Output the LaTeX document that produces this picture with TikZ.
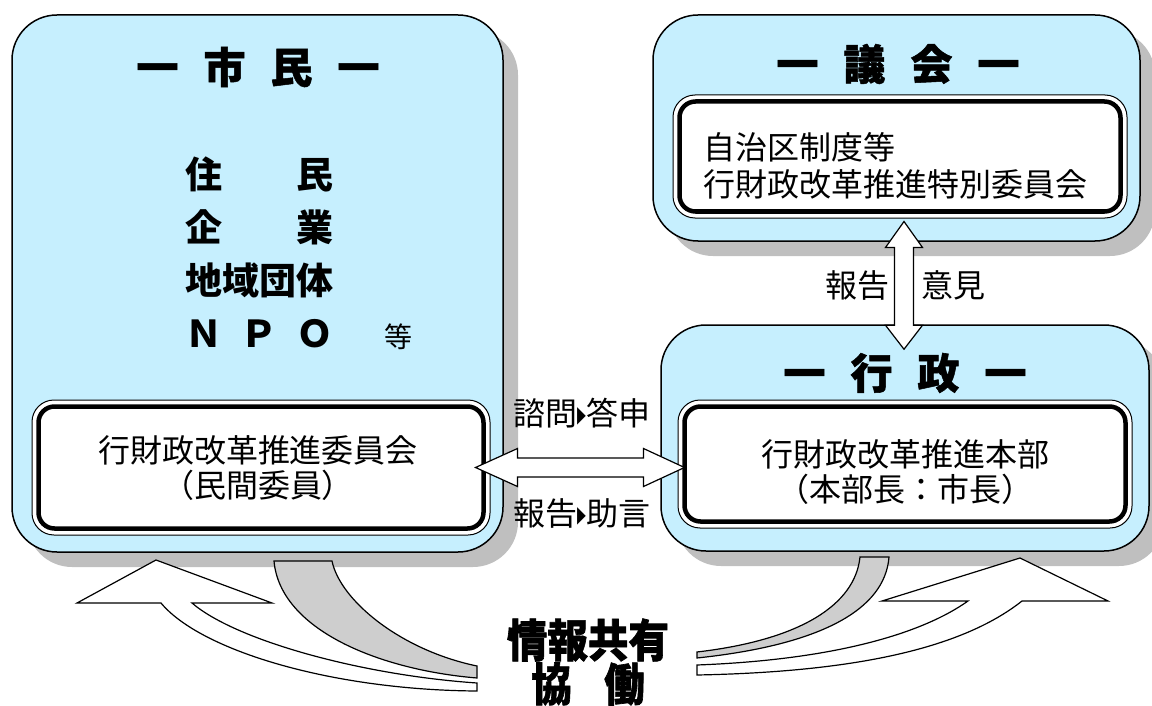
\documentclass[tikz,border=0pt]{standalone}
\usepackage{fontspec}
\setmainfont{Noto Sans CJK JP}
\newfontfamily\symfont{DejaVu Sans}
\usetikzlibrary{calc}
\usetikzlibrary{shadows}

\definecolor{boxcyan}{RGB}{198,239,254}
\definecolor{shadowgray}{RGB}{191,191,191}
\definecolor{bandgray}{RGB}{206,206,206}

\newcommand{\tri}{{\symfont\scalebox{0.55}[1.1]{▸}}}
\newcommand{\tgap}{\hspace{25pt}}

\tikzset{
  bigbox/.style={draw, line width=1.5pt, fill=boxcyan, rounded corners=45pt, inner sep=0pt,
    drop shadow={shadow xshift=15pt, shadow yshift=-15pt, fill=shadowgray, opacity=1}},
  innerbox/.style={draw, line width=1pt, fill=white, rounded corners=22pt, inner sep=0pt},
  thickframe/.style={line width=4.5pt, rounded corners=16pt},
  titletext/.style={font=\fontsize{42}{50}\selectfont\bfseries\addfontfeature{FakeBold=1.2}},
  listtext/.style={font=\fontsize{37}{44}\selectfont\bfseries, anchor=west, inner sep=0pt},
  boxtext/.style={font=\fontsize{32}{35}\selectfont, align=center},
  labeltext/.style={font=\fontsize{32}{38}\selectfont},
  blockarrow/.style={draw, line width=1.2pt, fill=white, line join=miter},
  band/.style={draw, line width=1.2pt, fill=bandgray},
  bigtext/.style={font=\fontsize{45}{50}\selectfont\bfseries\addfontfeature{FakeBold=1.5}, xscale=0.9, inner sep=0pt}
}

\begin{document}
\begin{tikzpicture}[x=1pt, y=-1pt]
  \useasboundingbox (0,0) rectangle (1152,706);

  % outer boxes
  \node[bigbox, minimum width=491pt, minimum height=537pt] (shimin) at (257.5,283.5) {};
  \node[bigbox, minimum width=487pt, minimum height=226pt] (gikai) at (896.5,128) {};
  \node[bigbox, minimum width=488pt, minimum height=226pt] (gyosei) at (905,438) {};

  % inner boxes
  \node[innerbox, minimum width=458pt, minimum height=135pt] (iinkai) at (261,467.5) {};
  \node[innerbox, minimum width=454pt, minimum height=123pt] (tokubetsu) at (900,156.5) {};
  \node[innerbox, minimum width=454pt, minimum height=128pt] (honbu) at (905,464) {};
  \foreach \b in {iinkai,tokubetsu,honbu}
    \draw[thickframe] ($(\b.north west)+(7,7)$) rectangle ($(\b.south east)+(-7,-7)$);

  % titles
  \node[titletext] (shiminT) at (258,67) {一\tgap 市\tgap 民\tgap 一};
  \node[titletext] (gikaiT) at (898,64) {一\tgap 議\tgap 会\tgap 一};
  \node[titletext] (gyoseiT) at (905,373) {一\tgap 行\tgap 政\tgap 一};

  \node[listtext] (jumin) at (185,174) {住　　民};
  \node[listtext] (kigyo) at (185,227) {企　　業};
  \node[listtext] (dantai) at (185,280) {地域団体};
  \node[listtext] (npo) at (185,334) {Ｎ\hspace{0.5em}Ｐ\hspace{0.5em}Ｏ};
  \node[font=\fontsize{28}{32}\selectfont] (nado) at (398,337) {等};

  \node[boxtext] (iinkaiT) at (258,468) {行財政改革推進委員会\\（民間委員）};
  \node[boxtext, align=left, anchor=west, font=\fontsize{32}{37}\selectfont] (tokubetsuT) at (700,166) {自治区制度等\\行財政改革推進特別委員会};
  \node[boxtext] (honbuT) at (905,472) {行財政改革推進本部\\（本部長：市長）};

  % arrows
  \coordinate (vt) at ($(tokubetsu.south)+(4,3)$);
  \coordinate (vb) at ($(vt |- gyosei.north)+(0,25)$);
  \draw[blockarrow] (vt) -- ++(18.5,26) -- ++(-9,0) -- ($(vb)+(9.5,-24)$) -- ++(9,0) -- (vb)
    -- ++(-18.5,-24) -- ++(9,0) -- ($(vt)+(-9.5,26)$) -- ++(-9,0) -- cycle;
  \node[labeltext] (hokoku) at (857,285) {報告};
  \node[labeltext] (iken) at (953,285) {意見};

  \coordinate (hl) at ($(iinkai.east)+(-15,0)$);
  \coordinate (hr) at ($(hl -| honbu.west)+(7,0)$);
  \draw[blockarrow] (hl) -- ++(42,-19) -- ++(0,9.5) -- ($(hr)+(-41,-9.5)$) -- ++(0,-9.5) -- (hr)
    -- ++(-41,19) -- ++(0,-9.5) -- ($(hl)+(42,9.5)$) -- ++(0,9.5) -- cycle;
  \node[labeltext] (shimon) at (582,413) {諮問\tri 答申};
  \node[labeltext] (jogen) at (582,513) {報告\tri 助言};

  % bottom
  \draw[band] (274,561) -- (332,561) .. controls (340,600) and (400,650) .. (477,666)
    -- (477,678) .. controls (380,670) and (280,630) .. (274,561) -- cycle;
  \draw[blockarrow] (156,560) -- (272,603) -- (192,603) .. controls (235,640) and (360,675) .. (477,683)
    -- (477,691) .. controls (330,690) and (200,650) .. (161,603) -- (77,603) -- cycle;
  \draw[band] (860,557) -- (889,557) .. controls (885,610) and (820,645) .. (697,658)
    -- (697,652) .. controls (800,640) and (855,605) .. (860,557) -- cycle;
  \draw[blockarrow] (1020,558) -- (1108,601) -- (1022,601) .. controls (960,650) and (850,672) .. (697,675)
    -- (697,665) .. controls (830,660) and (920,635) .. (968,601) -- (882,601) -- cycle;

  \node[bigtext] (joho) at (588,640) {情報共有};
  \node[bigtext] (kyodo) at (588,684) {協\hspace{0.8em}働};
\end{tikzpicture}
\end{document}
